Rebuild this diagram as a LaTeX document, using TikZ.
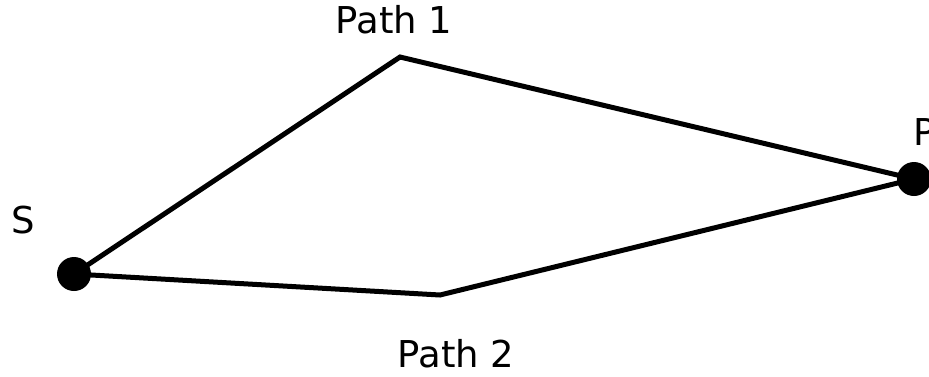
\documentclass[tikz,border=0pt]{standalone}
\usepackage{fontspec}
\setmainfont{DejaVu Sans}
\begin{document}
\begin{tikzpicture}[
		x=1pt, y=-1pt,
		font=\fontsize{37}{42}\selectfont,
		dot/.style={circle, fill=black, inner sep=0pt, minimum size=34pt},
		lbl/.style={anchor=base, inner sep=0pt},
		route/.style={line width=5pt, line join=miter},
	]
		\useasboundingbox (0,0) rectangle (929,376);

		% Endpunkte
		\node[dot] (s) at (74,274) {};
		\node[dot] (p) at (914,179) {};

		% Knickpunkte der beiden Wege
		\coordinate (top) at (400,57);
		\coordinate (bot) at (440,295);

		% Beschriftungen
		\node[lbl] (slbl) at (23,233) {S};
		\node[lbl] (plbl) at (925,145) {P};
		\node[lbl] (p1lbl) at (394,33) {Path 1};
		\node[lbl] (p2lbl) at (456,367) {Path 2};

		% Wege
		\draw[route] (s.center) -- (top) -- (p.center);
		\draw[route] (s.center) -- (bot) -- (p.center);
	\end{tikzpicture}
\end{document}
